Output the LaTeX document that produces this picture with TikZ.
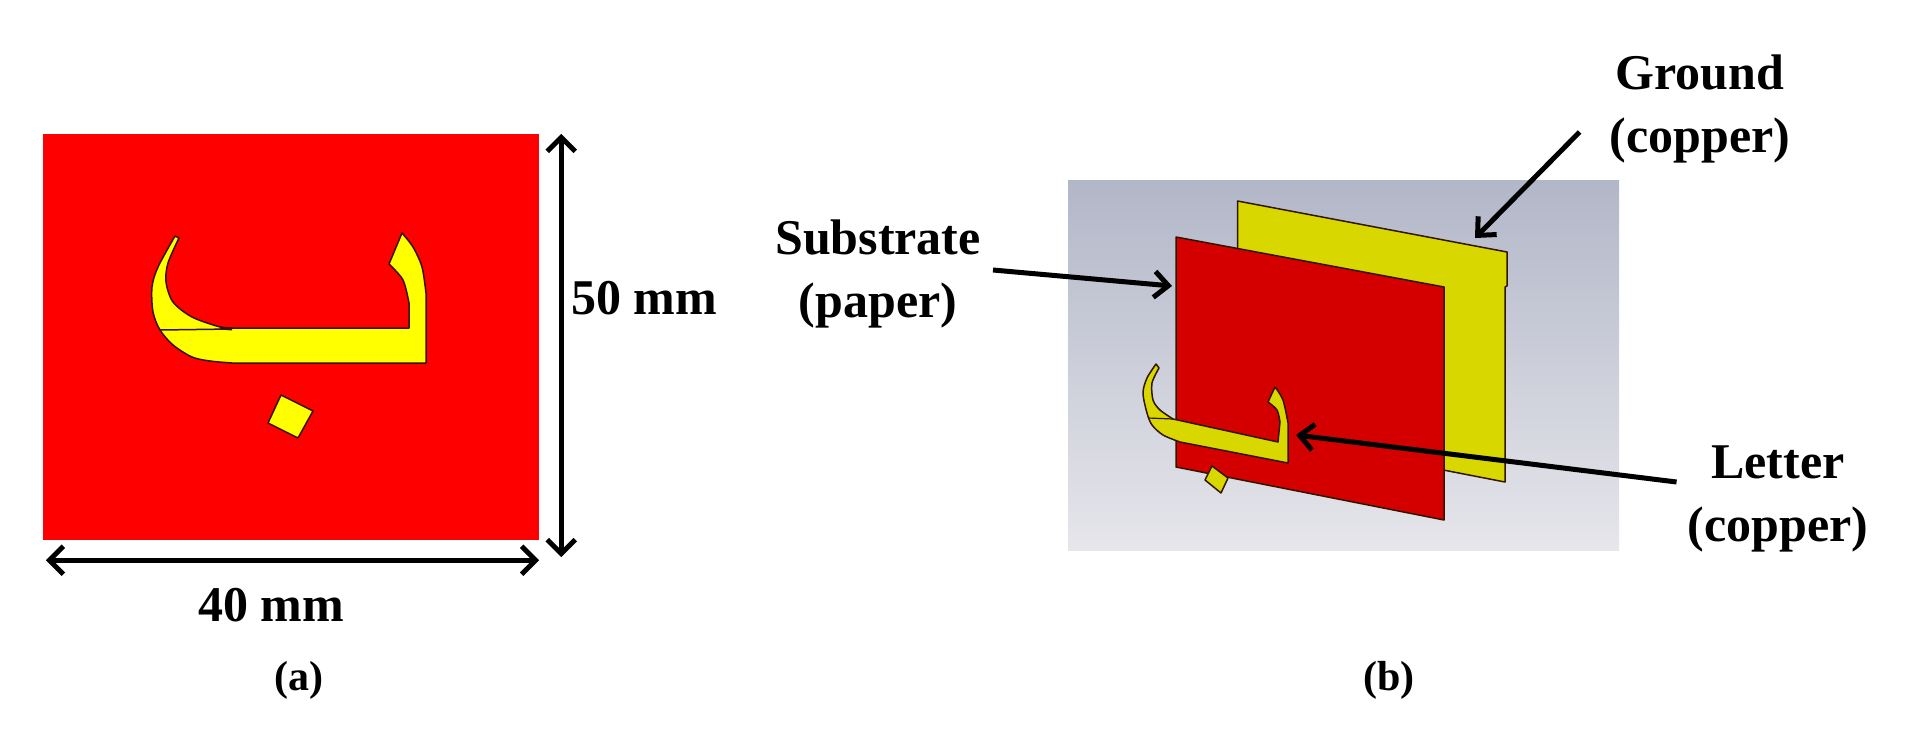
\documentclass[tikz,border=0pt]{standalone}
\usepackage{fontspec}
\setmainfont{Liberation Serif}
\usetikzlibrary{arrows.meta,positioning}

\definecolor{patchred}{RGB}{255,0,0}
\definecolor{patchyellow}{RGB}{255,255,0}
\definecolor{platered}{RGB}{212,0,0}
\definecolor{plateyellow}{RGB}{216,216,0}
\definecolor{edgedark}{RGB}{50,20,0}
\definecolor{scenetop}{RGB}{178,183,200}
\definecolor{scenebot}{RGB}{230,230,235}

\begin{document}
\begin{tikzpicture}[
  x=1pt,y=-1pt,
  lbl/.style={font=\bfseries\fontsize{50}{63}\selectfont,align=center,inner sep=0pt},
  caption/.style={font=\bfseries\fontsize{42}{50}\selectfont,inner sep=0pt},
  pointer/.style={-{Straight Barb[length=14pt,width=26pt,line width=5pt]},line width=5pt,black},
  dimline/.style={{Straight Barb[length=14pt,width=28pt,line width=5pt]}-{Straight Barb[length=14pt,width=28pt,line width=5pt]},line width=5pt,black},
  metal/.style={draw=edgedark,line width=1.5pt,line join=round}]

  \useasboundingbox (0,0) rectangle (1908,736);

  % left view
  \node[fill=patchred,minimum width=496pt,minimum height=406pt,inner sep=0pt] (patch) at (291,337) {};
  \draw[metal,fill=patchyellow]
    plot[smooth] coordinates {(179,238) (168,263) (166,282) (173,302) (192,317) (220,327) (232,328)}
    -- (409,328)
    -- plot[smooth] coordinates {(409,303) (403,280) (389,264)}
    -- plot[smooth] coordinates {(402,233) (413,247) (422,267) (426,293)}
    -- (426,363) -- (232,363)
    -- plot[smooth] coordinates {(232,363) (210,361) (192,357) (173,345) (160,330) (153,312) (152,287) (158,267) (175,236)}
    -- cycle;
  \draw[edgedark,line width=1.5pt] (160,330) -- (232,329);
  \draw[edgedark,line width=3pt] (220,328) -- (232,329);
  \draw[metal,fill=patchyellow] (281,395) -- (313,411) -- (298,438) -- (268,423) -- cycle;

  \draw[dimline] ([xshift=22pt]patch.north east) -- ([xshift=22pt,yshift=-17pt]patch.south east);
  \draw[dimline] ([xshift=3pt,yshift=-20pt]patch.south west) -- ([yshift=-20pt]patch.south east);
  \node[lbl] (height) at (644,298) {50 mm};
  \node[lbl] (width) at (271,605) {40 mm};
  \node[caption] (capa) at (299,680) {(a)};

  % right view
  \node[top color=scenetop,bottom color=scenebot,minimum width=551pt,minimum height=370pt,inner sep=0pt] (scene) at (1343.5,365) {};
  \draw[metal,fill=plateyellow] (1237.5,201) -- (1507,252) -- (1507,286) -- (1505,287) -- (1505,482) -- (1237.5,430) -- cycle;
  \draw[metal,fill=platered] (1176,237) -- (1444,287) -- (1444,520) -- (1176,467) -- cycle;
  \draw[metal,fill=plateyellow]
    plot[smooth] coordinates {(1159,368) (1152,383) (1153,400) (1160,410) (1173,419)}
    -- (1278,442)
    -- plot[smooth] coordinates {(1280,422) (1277,410) (1268,402)}
    -- plot[smooth] coordinates {(1275,387) (1283,400) (1288,423)}
    -- (1288,463) -- (1180,442)
    -- plot[smooth] coordinates {(1180,442) (1163,435) (1152,425) (1147,413) (1143,393) (1147,378) (1156,364)}
    -- cycle;
  \draw[edgedark,line width=1.2pt] (1148,418) -- (1173,419);
  \draw[metal,fill=plateyellow] (1212,466) -- (1228,478) -- (1221,493) -- (1205,480) -- cycle;

  \coordinate (groundtip) at (1475,238);
  \coordinate (subtip) at (1172,286);
  \coordinate (lettertip) at (1296,435);

  \node[lbl] (ground) at (1700,109) {Ground\\(copper)};
  \node[lbl] (subst) at (878,274) {Substrate\\(paper)};
  \node[lbl] (letter) at (1778,499) {Letter\\(copper)};
  \node[caption] (capb) at (1389,680) {(b)};

  \draw[pointer] ([xshift=-30pt,yshift=-23pt]ground.west) -- (groundtip);
  \draw[pointer] ([xshift=12pt,yshift=4pt]subst.east) -- (subtip);
  \draw[pointer] ([xshift=-11pt,yshift=17pt]letter.west) -- (lettertip);
\end{tikzpicture}
\end{document}
